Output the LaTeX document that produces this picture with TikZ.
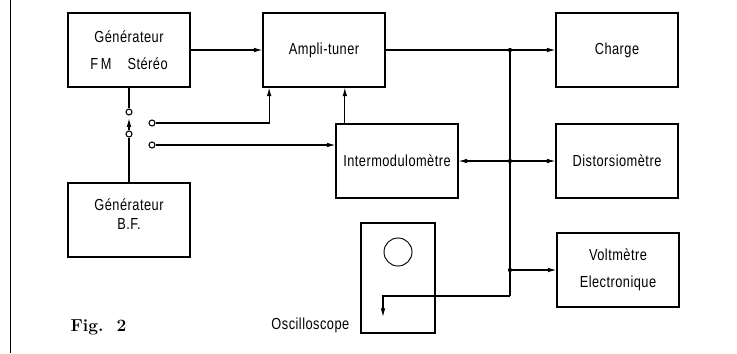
\documentclass[tikz,border=0pt]{standalone}
\usepackage{fontspec}
\usepackage{tikz}
\usetikzlibrary{arrows.meta,positioning}
\newfontfamily\lab{Liberation Sans}[FakeStretch=0.8,LetterSpace=3]

\begin{document}
\begin{tikzpicture}[
    x=0.75pt, y=-0.75pt,
    box/.style={draw, line width=1.3pt, minimum width=91pt, minimum height=55pt,
        align=center, inner sep=2pt, font=\lab\fontsize{12}{14}\selectfont},
    wire/.style={draw, line width=0.8pt},
    arr/.style={wire, -{Latex[length=6.5pt,width=3.5pt]}},
    junc/.style={circle, fill, inner sep=0pt, minimum size=3.2pt},
    term/.style={circle, draw, fill=white, line width=0.8pt, inner sep=0pt, minimum size=4.5pt},
]
\useasboundingbox (0,0) rectangle (737,353);
\draw[line width=0.7pt] (10,0) -- (10,353);

% appareils
\node[box] (fm) at (129,50) {Générateur\\[6pt]F\,M\quad Stéréo};
\node[box] (ampli) at (324,50) {Ampli-tuner};
\node[box] (charge) at (617,50) {Charge};
\node[box] (inter) at (397,161) {Intermodulomètre};
\node[box] (disto) at (617,161) {Distorsiomètre};
\node[box] (volt) at (618,270) {Voltmètre\\[6pt]Electronique};
\node[box] (bf) at (129,220) {Générateur\\B.F.\\[-5pt]\mbox{}};

% oscilloscope
\node[draw, line width=1.3pt, minimum width=55pt, minimum height=82pt] (osc) at (398,278) {};
\node[circle, draw, line width=0.7pt, minimum size=21pt] (screen) at (398,252) {};
\node[anchor=east, font=\lab\fontsize{12}{14}\selectfont] (osclab) at (354,325) {Oscilloscope};
\coordinate (probe) at (383,317);

\node[anchor=west, font=\bfseries\fontsize{13}{15}\selectfont] (fig) at (66,327) {Fig.\ \ 2};

% commutateur
\node[term] (s1) at (129,112) {};
\node[term] (s2) at (129,134) {};
\node[term] (t1) at (152,123) {};
\node[term] (t2) at (152,145) {};

% bus de sortie
\coordinate (bus) at (510,0);
\node[junc] (j1) at (ampli.east -| bus) {};
\node[junc] (j2) at (disto.west -| bus) {};
\node[junc] (j3) at (volt.west -| bus) {};
\coordinate (j4) at (510,296);

\draw[arr] (fm.east) -- (ampli.west);
\draw[wire] (ampli.east) -- (j1);
\draw[arr] (j1) -- (charge.west);
\draw[wire] (j1) -- (j2) -- (j3) -- (j4);
\draw[arr] (j2) -- (inter.east);
\draw[arr] (j2) -- (disto.west);
\draw[arr] (j3) -- (volt.west);
\draw[arr] (j4) -| (probe);

\draw[wire] (fm.south) -- (s1);
\draw[arr] (s2) -- ([yshift=-2pt]s1.south);
\draw[wire] (s2) -- (bf.north);
\draw[arr] (t1) -| ([xshift=5pt]ampli.south west);
\draw[arr] (t2) -- (t2 -| inter.west);
\draw[arr] ([xshift=7pt]inter.north west) -- ([xshift=7pt]inter.north west |- ampli.south);
\end{tikzpicture}
\end{document}
